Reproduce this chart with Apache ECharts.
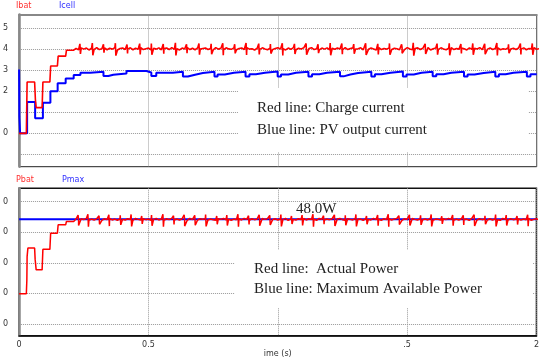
<!DOCTYPE html>
<html>
<head>
<meta charset="utf-8">
<script src="https://cdn.jsdelivr.net/npm/echarts@6/dist/echarts.min.js"></script>
<style>
  html, body { margin: 0; padding: 0; background: #fff; }
  #chart { width: 542px; height: 360px; }
</style>
</head>
<body>
<div id="chart"></div>
<script>
// time axis, shared by both panels
const xTicks = [0, 0.5, 1, 1.5, 2];
const xTickLabels = ['0', '0.5', '', '.5', '2'];

// y ticks (the left side of the labels is cut off in the source figure)
const topTicks = [-1, 0, 1, 2, 3, 4, 5];
const topTickLabels = ['', '0', '', '2', '3', '4', '5'];
const bottomTicks = [10, 20, 30, 40, 50];
const bottomTickLabels = ['0', '0', '0', '0', '0'];

// the ripple base is sampled every 0.01 s from 0.22 s on
const steadyStart = 0.22;
const steadyStep = 0.01;

// Ibat start-up, [time, value]
const ibatStart = [[0, 0], [0.028, 0], [0.031, 2.43], [0.06, 2.43], [0.063, 1.6], [0.066, 1.22],
  [0.089, 1.22], [0.092, 2.43], [0.119, 2.43], [0.122, 3.19], [0.148, 3.19], [0.151, 3.66],
  [0.18, 3.66], [0.183, 3.94], [0.211, 3.94]];
const ibatBase = [
  4.02, 3.96, 4.05, 3.99, 4.04, 3.95, 4.03, 3.98, 4.06, 3.97,
  4.01, 4.05, 3.96, 4.03, 3.99, 4.06, 3.95, 4.02, 4.04, 3.97,
  4.00, 4.05, 3.96, 4.03, 3.98, 4.06, 3.97, 4.01, 4.04, 3.95,
  4.03, 3.99, 4.05, 3.96, 4.02, 4.04, 3.97, 4.06, 3.98, 4.01,
  3.95, 4.04, 4.00, 4.06, 3.97, 4.03, 3.96, 4.05, 3.99, 4.02,
  4.04, 3.97, 4.02, 3.95, 4.06, 3.99, 4.03, 3.96, 4.05, 4.00,
  3.98, 4.05, 3.96, 4.02, 4.04, 3.97, 4.06, 3.99, 4.01, 3.95,
  4.03, 3.98, 4.05, 4.00, 3.96, 4.04, 3.97, 4.02, 4.06, 3.99,
  4.01, 3.95, 4.04, 3.98, 4.06, 3.96, 4.03, 4.00, 4.05, 3.97,
  4.02, 4.06, 3.97, 4.01, 3.95, 4.04, 3.99, 4.05, 3.96, 4.03,
  3.98, 4.04, 4.00, 3.96, 4.06, 3.97, 4.02, 4.05, 3.99, 4.01,
  4.05, 3.96, 4.03, 3.98, 4.04, 4.00, 3.95, 4.06, 3.97, 4.02,
  3.99, 4.05, 3.97, 4.03, 4.01, 3.96, 4.04, 3.98, 4.06, 4.00,
  3.96, 4.02, 4.05, 3.97, 4.03, 3.99, 4.06, 3.95, 4.01, 4.04,
  3.98, 4.05, 4.00, 3.96, 4.03, 4.06, 3.97, 4.02, 3.99, 4.04,
  4.01, 3.95, 4.05, 3.98, 4.03, 4.00, 4.06, 3.96, 4.02, 3.99,
  4.04, 3.97, 4.02, 4.05, 3.96, 4.01, 3.98, 4.06, 4.00, 4.03,
  3.97, 4.04, 3.99, 4.05, 3.96, 4.02, 4.00, 4.06, 3.98, 4.01];
// switching spikes: [time, peak, dip]
const ibatSpikes = [
  [0.235, 4.24, 3.76], [0.283, 4.28, 3.70], [0.326, 4.22, 3.82], [0.372, 4.27, 3.68], [0.417, 4.21, 3.79],
  [0.466, 4.25, 3.74], [0.511, 4.26, 3.72], [0.557, 4.23, 3.77], [0.604, 4.29, 3.69], [0.647, 4.22, 3.80],
  [0.695, 4.26, 3.73], [0.742, 4.24, 3.75], [0.787, 4.27, 3.70], [0.833, 4.22, 3.79], [0.877, 4.28, 3.71],
  [0.926, 4.25, 3.74], [0.971, 4.23, 3.78], [1.017, 4.27, 3.69], [1.064, 4.24, 3.76], [1.109, 4.26, 3.72],
  [1.155, 4.22, 3.80], [1.202, 4.28, 3.70], [1.247, 4.25, 3.75], [1.293, 4.23, 3.77], [1.339, 4.27, 3.71],
  [1.386, 4.24, 3.74], [1.431, 4.26, 3.72], [1.478, 4.22, 3.79], [1.523, 4.29, 3.68], [1.569, 4.24, 3.76],
  [1.615, 4.25, 3.73], [1.662, 4.27, 3.70], [1.707, 4.23, 3.78], [1.753, 4.26, 3.72], [1.799, 4.24, 3.75],
  [1.846, 4.28, 3.69], [1.891, 4.22, 3.80], [1.937, 4.25, 3.74], [1.983, 4.26, 3.72]];

// Icell, drawn as steps: each value holds until the next time
const icellSteps = [[0, 3.03], [0.001, 0.79], [0.004, 0], [0.031, 1.48], [0.062, 0.71], [0.092, 1.45],
  [0.121, 2.0], [0.149, 2.37], [0.18, 2.6], [0.211, 2.76], [0.237, 2.87], [0.275, 2.92], [0.326, 2.72],
  [0.345, 2.78], [0.364, 2.84], [0.415, 2.95], [0.492, 2.88], [0.511, 2.72], [0.53, 2.87], [0.594, 2.92],
  [0.633, 2.69], [0.652, 2.78], [0.68, 2.86], [0.71, 2.92], [0.755, 2.69], [0.767, 2.79], [0.795, 2.87],
  [0.83, 2.92], [0.875, 2.69], [0.89, 2.8], [0.915, 2.87], [0.95, 2.93], [0.999, 2.69], [1.012, 2.79],
  [1.04, 2.87], [1.07, 2.92], [1.118, 2.69], [1.132, 2.8], [1.16, 2.87], [1.19, 2.92], [1.24, 2.7],
  [1.254, 2.79], [1.28, 2.86], [1.31, 2.92], [1.361, 2.69], [1.375, 2.8], [1.4, 2.87], [1.435, 2.93],
  [1.483, 2.69], [1.497, 2.79], [1.525, 2.87], [1.555, 2.92], [1.598, 2.7], [1.612, 2.8], [1.64, 2.87],
  [1.67, 2.92], [1.719, 2.69], [1.733, 2.79], [1.76, 2.86], [1.795, 2.92], [1.84, 2.69], [1.854, 2.8],
  [1.88, 2.87], [1.91, 2.92], [1.962, 2.69], [1.976, 2.8], [2.0, 2.8]];

// Pbat start-up, [time, value]
const pbatStart = [[0, 19.9], [0.028, 19.9], [0.03, 24.4], [0.031, 32], [0.034, 34.8], [0.06, 34.8],
  [0.062, 31.2], [0.066, 27.7], [0.089, 27.7], [0.092, 34.4], [0.119, 34.4], [0.122, 39.7],
  [0.148, 39.7], [0.151, 42.4], [0.18, 42.4], [0.183, 43.5], [0.211, 43.5]];
const pbatBase = [
  44.3, 44.0, 44.4, 44.1, 44.5, 43.9, 44.3, 44.0, 44.4, 44.2,
  43.9, 44.4, 44.1, 44.5, 44.0, 44.3, 43.9, 44.4, 44.2, 44.0,
  44.4, 44.1, 43.9, 44.5, 44.2, 44.0, 44.4, 44.1, 44.3, 43.9,
  44.2, 44.5, 44.0, 44.3, 43.9, 44.4, 44.1, 44.5, 44.0, 44.3,
  44.0, 44.4, 44.2, 43.9, 44.5, 44.1, 44.3, 44.0, 44.4, 44.2,
  44.5, 44.0, 44.3, 44.1, 43.9, 44.4, 44.2, 44.5, 44.0, 44.3,
  43.9, 44.3, 44.1, 44.4, 44.0, 44.5, 44.2, 43.9, 44.4, 44.1,
  44.3, 44.0, 44.5, 44.2, 44.4, 43.9, 44.1, 44.4, 44.0, 44.3,
  44.1, 44.5, 43.9, 44.3, 44.2, 44.0, 44.4, 44.1, 44.5, 44.0,
  44.4, 44.1, 44.3, 43.9, 44.5, 44.2, 44.0, 44.3, 44.1, 44.4,
  44.0, 44.3, 44.5, 44.1, 43.9, 44.4, 44.2, 44.0, 44.5, 44.2,
  44.3, 43.9, 44.4, 44.2, 44.0, 44.5, 44.1, 44.3, 43.9, 44.4,
  44.1, 44.4, 44.0, 44.3, 44.5, 44.1, 43.9, 44.4, 44.2, 44.0,
  44.5, 44.2, 44.0, 44.4, 44.1, 44.3, 44.0, 44.5, 43.9, 44.3,
  44.2, 44.0, 44.4, 44.1, 44.5, 44.2, 43.9, 44.3, 44.0, 44.4,
  44.1, 44.3, 43.9, 44.5, 44.2, 44.0, 44.4, 44.1, 44.3, 44.0,
  44.4, 44.0, 44.3, 44.1, 43.9, 44.5, 44.2, 44.0, 44.4, 44.1,
  44.2, 44.4, 44.0, 44.3, 44.1, 44.5, 43.9, 44.2, 44.4, 44.0];
const pbatSpikes = [
  [0.228, 45.6, 42.2], [0.266, 45.9, 41.8], [0.309, 45.4, 42.6], [0.347, 45.7, 42.0], [0.391, 45.5, 42.4],
  [0.433, 45.8, 41.9], [0.474, 45.3, 42.7], [0.512, 45.6, 42.1], [0.556, 45.9, 41.8], [0.597, 45.4, 42.5],
  [0.638, 45.7, 42.0], [0.679, 45.5, 42.3], [0.721, 45.8, 41.9], [0.764, 45.3, 42.6], [0.803, 45.6, 42.2],
  [0.846, 45.9, 41.8], [0.887, 45.4, 42.5], [0.928, 45.7, 42.1], [0.969, 45.5, 42.4], [1.012, 45.8, 41.9],
  [1.053, 45.3, 42.7], [1.094, 45.6, 42.2], [1.136, 45.9, 41.8], [1.177, 45.4, 42.6], [1.219, 45.7, 42.0],
  [1.261, 45.5, 42.3], [1.302, 45.8, 41.9], [1.343, 45.3, 42.6], [1.386, 45.6, 42.1], [1.427, 45.9, 41.8],
  [1.468, 45.4, 42.5], [1.509, 45.7, 42.2], [1.552, 45.5, 42.4], [1.593, 45.8, 41.9], [1.634, 45.2, 42.7],
  [1.676, 45.6, 42.1], [1.717, 45.5, 42.4], [1.759, 45.7, 42.0], [1.801, 45.4, 42.6], [1.842, 45.8, 41.9],
  [1.883, 45.6, 42.2], [1.925, 45.3, 42.5], [1.966, 45.7, 42.0]];

// maximum available power, flat
const pmax = [[0, 44.2], [2, 44.2]];

// start-up corners, then ripple samples with the spikes slotted in by time
const buildTrace = (start, base, spikes) => {
  const pts = base.map((v, i) => [+(steadyStart + i * steadyStep).toFixed(3), v]);
  spikes.forEach(([t, hi, lo]) => {
    pts.push([t, hi], [+(t + 0.002).toFixed(3), lo]);
  });
  pts.sort((a, b) => a[0] - b[0]);
  return start.concat(pts);
};

const chart = echarts.init(document.getElementById('chart'));

const tickFont = { fontSize: 8, color: '#333', fontFamily: 'DejaVu Sans' };
const dotted = { show: true, lineStyle: { type: 'dotted', color: '#999', width: 1 } };
const serif = '15px "Liberation Serif"';

const option = {
  animation: false,
  grid: [
    { left: 15, right: 5.3, top: 14.5, height: 152.2, show: true, borderColor: '#222', borderWidth: 1 },
    { left: 15, right: 5.3, top: 188.3, height: 147.4, show: true, borderColor: '#111', borderWidth: 1.5 }
  ],
  xAxis: [
    {
      gridIndex: 0, type: 'value', min: 0, max: 2, interval: 0.5, position: 'top',
      axisLine: { show: true, onZero: false, lineStyle: { color: '#888', width: 2 } },
      axisTick: { show: false },
      axisLabel: { show: false },
      splitLine: dotted
    },
    {
      gridIndex: 1, type: 'value', min: 0, max: 2, interval: 0.5,
      axisLine: { show: true, onZero: false, lineStyle: { color: '#111', width: 1.5 } },
      axisTick: { show: false },
      axisLabel: Object.assign({
        margin: 5,
        formatter: v => xTickLabels[xTicks.indexOf(v)] ?? ''
      }, tickFont),
      splitLine: dotted,
      name: 'ime (s)',
      nameLocation: 'middle',
      nameGap: 14,
      nameTextStyle: tickFont
    }
  ],
  yAxis: [
    {
      gridIndex: 0, type: 'value', min: -1.58, max: 5.63,
      axisLine: { show: true, onZero: false, lineStyle: { color: '#888', width: 2.5 } },
      axisTick: { show: false, customValues: topTicks },
      axisLabel: Object.assign({
        customValues: topTicks,
        margin: 11,
        formatter: v => topTickLabels[topTicks.indexOf(v)] ?? ''
      }, tickFont),
      splitLine: dotted
    },
    {
      gridIndex: 1, type: 'value', min: 6.18, max: 54.35,
      axisLine: { show: true, onZero: false, lineStyle: { color: '#888', width: 2.5 } },
      axisTick: { show: false, customValues: bottomTicks },
      axisLabel: Object.assign({
        customValues: bottomTicks,
        margin: 11,
        formatter: v => bottomTickLabels[bottomTicks.indexOf(v)] ?? ''
      }, tickFont),
      splitLine: dotted
    }
  ],
  series: [
    {
      name: 'Icell', type: 'line', xAxisIndex: 0, yAxisIndex: 0, step: 'end',
      showSymbol: false, data: icellSteps,
      lineStyle: { color: '#0000ff', width: 2 }
    },
    {
      name: 'Ibat', type: 'line', xAxisIndex: 0, yAxisIndex: 0,
      showSymbol: false, data: buildTrace(ibatStart, ibatBase, ibatSpikes),
      lineStyle: { color: '#ff0000', width: 1.6 }
    },
    {
      name: 'Pmax', type: 'line', xAxisIndex: 1, yAxisIndex: 1,
      showSymbol: false, data: pmax,
      lineStyle: { color: '#0000ff', width: 2 }
    },
    {
      name: 'Pbat', type: 'line', xAxisIndex: 1, yAxisIndex: 1,
      showSymbol: false, data: buildTrace(pbatStart, pbatBase, pbatSpikes),
      lineStyle: { color: '#ff0000', width: 1.5 }
    }
  ],
  graphic: [
    { type: 'text', x: 16, y: 2, z: 100, style: { text: 'Ibat', fill: '#ff3030', font: '8px "DejaVu Sans"' } },
    { type: 'text', x: 59, y: 2, z: 100, style: { text: 'Icell', fill: '#3030ff', font: '8px "DejaVu Sans"' } },
    { type: 'text', x: 16, y: 176, z: 100, style: { text: 'Pbat', fill: '#ff3030', font: '8px "DejaVu Sans"' } },
    { type: 'text', x: 62, y: 176, z: 100, style: { text: 'Pmax', fill: '#3030ff', font: '8px "DejaVu Sans"' } },

    { type: 'rect', z: 90, shape: { x: 238, y: 88, width: 290, height: 64 }, style: { fill: '#fff' } },
    { type: 'text', x: 257, y: 108, z: 100, style: { text: 'Red line: Charge current', font: serif, fill: '#222', verticalAlign: 'middle' } },
    { type: 'text', x: 257, y: 130, z: 100, style: { text: 'Blue line: PV output current', font: serif, fill: '#222', verticalAlign: 'middle' } },

    { type: 'text', x: 296, y: 209, z: 100, style: { text: '48.0W', font: serif, fill: '#222', verticalAlign: 'middle' } },

    { type: 'rect', z: 90, shape: { x: 235, y: 250, width: 298, height: 58 }, style: { fill: '#fff' } },
    { type: 'text', x: 254, y: 269, z: 100, style: { text: 'Red line:  Actual Power', font: serif, fill: '#222', verticalAlign: 'middle' } },
    { type: 'text', x: 254, y: 289, z: 100, style: { text: 'Blue line: Maximum Available Power', font: serif, fill: '#222', verticalAlign: 'middle' } }
  ]
};

chart.setOption(option);
</script>
</body>
</html>
